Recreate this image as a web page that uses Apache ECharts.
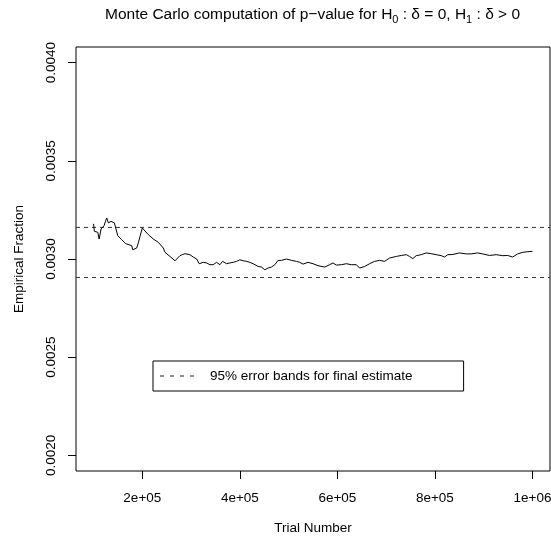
<!DOCTYPE html>
<html>
<head>
<meta charset="utf-8">
<script src="https://cdn.jsdelivr.net/npm/echarts@6/dist/echarts.min.js"></script>
<style>
  html, body { margin: 0; padding: 0; background: #fff; }
  #chart { width: 551px; height: 539px; }
</style>
</head>
<body>
<div id="chart"></div>
<script>
// trial numbers and running empirical fraction
var trials = [
  100000, 101700, 108700, 111400, 115500, 121600, 125100, 127100, 130400, 135900,
  138600, 142700, 149600, 157800, 166000, 178300, 180300, 188500, 191800, 195300,
  200000, 204100, 212300, 222500, 232800, 243000, 246500, 256700, 267000, 277200,
  281900, 287400, 297600, 304400, 311400, 316700, 324900, 331800, 338600, 345300,
  352300, 359100, 364600, 372800, 379500, 386300, 393300, 400000, 406800, 413700,
  420500, 427200, 437500, 444400, 451200, 457900, 464900, 471700, 478400, 485400,
  495600, 505800, 516100, 522800, 529600, 539800, 550000, 560300, 574000, 584200,
  591000, 597900, 608200, 618400, 628700, 638900, 645600, 655900, 666100, 676300,
  686600, 696800, 707100, 720800, 731000, 741300, 748000, 754800, 761700, 771900,
  782200, 792400, 802700, 812900, 819700, 826400, 836700, 850300, 864100, 874300,
  887800, 898000, 911800, 925500, 939000, 949200, 959500, 969700, 980000, 990200,
  1000000
];
var fraction = [
  0.003179, 0.003141, 0.003136, 0.003102, 0.003153, 0.003170, 0.003197, 0.003209, 0.003184, 0.003192,
  0.003197, 0.003184, 0.003119, 0.003098, 0.003078, 0.003068, 0.003047, 0.003056, 0.003082, 0.003115,
  0.003158, 0.003149, 0.003124, 0.003102, 0.003085, 0.003056, 0.003034, 0.003013, 0.002991, 0.003017,
  0.003022, 0.003027, 0.003022, 0.003010, 0.003000, 0.002976, 0.002983, 0.002980, 0.002971, 0.002971,
  0.002983, 0.002971, 0.002988, 0.002976, 0.002980, 0.002983, 0.002988, 0.002996, 0.002991, 0.002988,
  0.002983, 0.002976, 0.002962, 0.002959, 0.002945, 0.002954, 0.002959, 0.002971, 0.002993, 0.002993,
  0.003000, 0.002993, 0.002988, 0.002983, 0.002974, 0.002983, 0.002976, 0.002966, 0.002959, 0.002971,
  0.002980, 0.002969, 0.002971, 0.002976, 0.002971, 0.002971, 0.002954, 0.002962, 0.002976, 0.002988,
  0.002993, 0.002988, 0.003005, 0.003013, 0.003018, 0.003022, 0.003013, 0.003002, 0.003017, 0.003022,
  0.003031, 0.003027, 0.003022, 0.003017, 0.003010, 0.003022, 0.003023, 0.003031, 0.003026, 0.003026,
  0.003031, 0.003026, 0.003018, 0.003022, 0.003017, 0.003018, 0.003010, 0.003026, 0.003034, 0.003037,
  0.003039
];
// 95% error bands for the final estimate
var bandUpper = 0.003161;
var bandLower = 0.002906;

var xTicks = [200000, 400000, 600000, 800000, 1000000];
var xTickLabels = ['2e+05', '4e+05', '6e+05', '8e+05', '1e+06'];
var yTicks = [0.0020, 0.0025, 0.0030, 0.0035, 0.0040];

// R pads the range by 4% on each side
var xMin = 64000, xMax = 1036000;
var yMin = 0.00192, yMax = 0.00408;

var FONT = '"Liberation Sans", Arial, Helvetica, sans-serif';
var legendName = '95% error bands for final estimate';
// four short dashes for the legend key
var dashIcon = 'path://M0,0h4v1h-4z M10,0h4v1h-4z M20,0h4v1h-4z M30,0h4v1h-4z';

var lineData = trials.map(function (t, i) { return [t, fraction[i]]; });

var chart = echarts.init(document.getElementById('chart'), null, { renderer: 'canvas' });

chart.setOption({
  animation: false,
  backgroundColor: '#fff',
  textStyle: { fontFamily: FONT, color: '#000' },
  title: {
    text: 'Monte Carlo computation of p\u2212value for H{sub|0} : \u03b4 = 0, H{sub|1} : \u03b4 > 0',
    left: 100,
    top: 0,
    textStyle: {
      fontFamily: FONT,
      fontWeight: 'normal',
      fontSize: 15.5,
      color: '#000',
      lineHeight: 20,
      rich: {
        sub: { fontSize: 11, lineHeight: 11, verticalAlign: 'bottom', fontFamily: FONT, color: '#000' }
      }
    }
  },
  legend: {
    left: 153,
    top: 361,
    orient: 'horizontal',
    data: [{ name: legendName, icon: dashIcon }],
    selectedMode: false,
    itemWidth: 34,
    itemHeight: 1,
    itemGap: 0,
    padding: [8, 51, 8, 7],
    borderColor: '#000',
    borderWidth: 1,
    borderRadius: 0,
    itemStyle: { color: '#222' },
    textStyle: { fontFamily: FONT, fontSize: 13.5, color: '#000', padding: [0, 0, 0, 11] }
  },
  grid: {
    left: 76,
    right: 1,
    top: 47,
    bottom: 68,
    show: true,
    borderColor: '#000',
    borderWidth: 1,
    backgroundColor: 'transparent',
    containLabel: false,
    outerBoundsMode: 'none'
  },
  xAxis: {
    type: 'value',
    min: xMin,
    max: xMax,
    name: 'Trial Number',
    nameLocation: 'middle',
    nameGap: 50,
    nameTextStyle: { fontFamily: FONT, fontSize: 13.5, color: '#000' },
    axisLine: { show: false },
    splitLine: { show: false },
    axisTick: {
      show: true,
      inside: false,
      length: 8,
      customValues: xTicks,
      lineStyle: { color: '#000', width: 1 }
    },
    axisLabel: {
      show: true,
      customValues: xTicks,
      margin: 20,
      fontFamily: FONT,
      fontSize: 13.5,
      color: '#000',
      formatter: function (v) {
        var i = xTicks.indexOf(v);
        return i >= 0 ? xTickLabels[i] : '';
      }
    }
  },
  yAxis: {
    type: 'value',
    min: yMin,
    max: yMax,
    name: 'Empirical Fraction',
    nameLocation: 'middle',
    nameGap: 50,
    nameRotate: 90,
    nameTextStyle: { fontFamily: FONT, fontSize: 13.5, color: '#000' },
    axisLine: { show: false },
    splitLine: { show: false },
    axisTick: {
      show: true,
      inside: false,
      length: 8,
      customValues: yTicks,
      lineStyle: { color: '#000', width: 1 }
    },
    axisLabel: {
      show: true,
      customValues: yTicks,
      rotate: 90,
      margin: 18,
      fontFamily: FONT,
      fontSize: 13.5,
      color: '#000',
      formatter: function (v) { return v.toFixed(4); }
    }
  },
  series: [
    {
      name: 'fraction',
      type: 'line',
      data: lineData,
      symbol: 'none',
      silent: true,
      lineStyle: { color: '#000', width: 1 },
      z: 3
    },
    {
      name: legendName,
      type: 'line',
      data: [[xMin, bandUpper], [xMax, bandUpper]],
      symbol: 'none',
      silent: true,
      lineStyle: { color: '#333', width: 1, type: [4, 4] },
      itemStyle: { color: '#333' },
      z: 2
    },
    {
      name: legendName,
      type: 'line',
      data: [[xMin, bandLower], [xMax, bandLower]],
      symbol: 'none',
      silent: true,
      lineStyle: { color: '#333', width: 1, type: [4, 4] },
      itemStyle: { color: '#333' },
      z: 2
    }
  ]
});
</script>
</body>
</html>
